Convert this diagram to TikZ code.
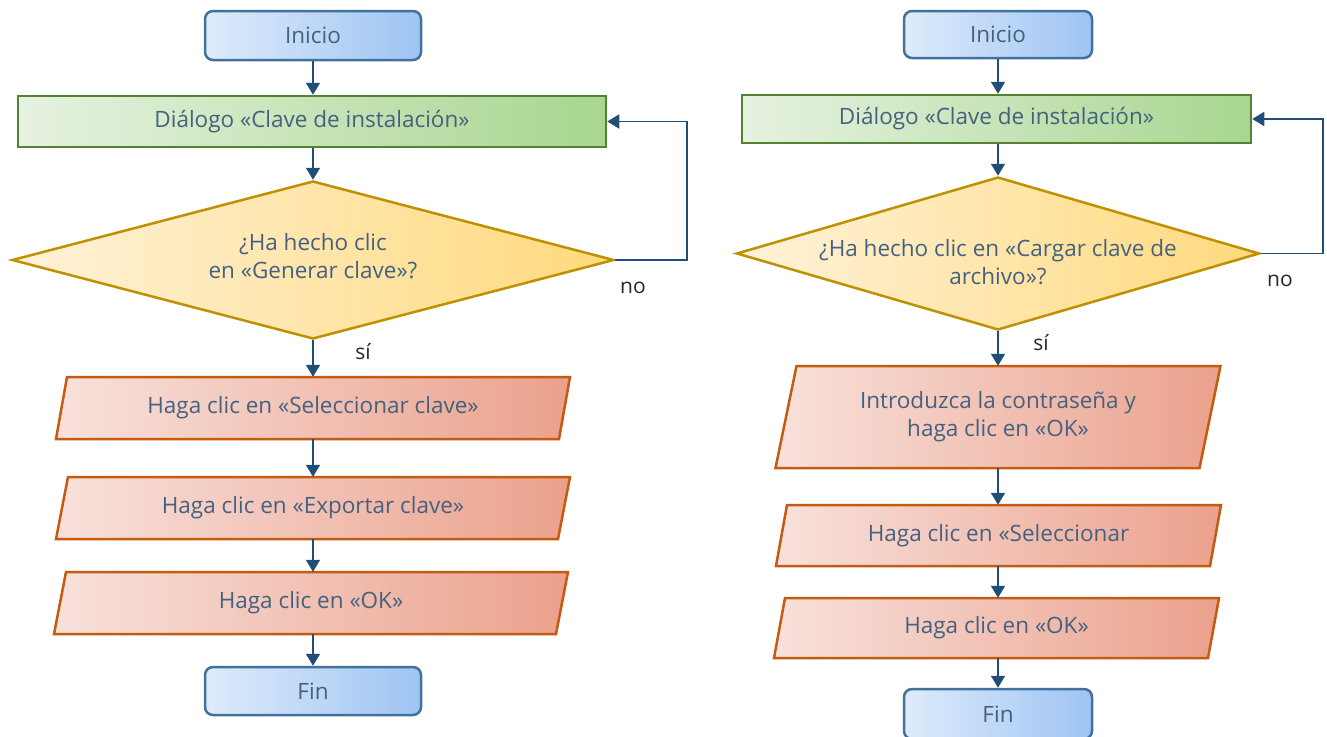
\documentclass[tikz,border=0pt]{standalone}
\usepackage{fontspec}
\setmainfont{Open Sans}
\usetikzlibrary{shapes.geometric,arrows.meta}
\definecolor{txt}{HTML}{44617F}
\definecolor{arrc}{HTML}{1F4E79}
\definecolor{blueL}{HTML}{DEEBFB}
\definecolor{blueR}{HTML}{9EC4F3}
\definecolor{blueB}{HTML}{41719C}
\definecolor{greenL}{HTML}{E6F2E0}
\definecolor{greenR}{HTML}{A8D690}
\definecolor{greenB}{HTML}{548235}
\definecolor{yelL}{HTML}{FFF2D9}
\definecolor{yelR}{HTML}{FFD97C}
\definecolor{yelB}{HTML}{BF9000}
\definecolor{redL}{HTML}{F8E1DB}
\definecolor{redR}{HTML}{EBA18C}
\definecolor{redB}{HTML}{C55A11}
\tikzset{
  x=1pt,y=-1pt,
  every node/.style={font=\fontsize{22.5}{28}\selectfont, text=txt, align=center},
  termbox/.style={rectangle, rounded corners=8pt, draw=blueB, line width=2.5pt, left color=blueL, right color=blueR, inner sep=0pt},
  dlgbox/.style={rectangle, draw=greenB, line width=2.5pt, left color=greenL, right color=greenR, inner sep=0pt},
  decbox/.style={diamond, draw=yelB, line width=2.5pt, left color=yelL, right color=yelR, inner sep=0pt},
  dectext/.style={inner sep=0pt},
  parashape/.style={draw=redB, line width=2.5pt, left color=redL, right color=redR},
  paratext/.style={rectangle, inner sep=0pt},
  arr/.style={draw=arrc, line width=1.8pt, -{Triangle[length=12pt,width=14pt]}},
  lbl/.style={font=\fontsize{21}{24}\selectfont, text=black!85}
}
% \mypara{name}{cx}{cy}{w}{h}{slant}{text}
\newcommand{\mypara}[7]{%
  \path[parashape] ({#2-#4/2+#6/2},{#3-#5/2}) -- ({#2+#4/2+#6/2},{#3-#5/2}) -- ({#2+#4/2-#6/2},{#3+#5/2}) -- ({#2-#4/2-#6/2},{#3+#5/2}) -- cycle;
  \node[paratext, minimum width=#4, minimum height=#5] (#1) at (#2,#3) {#7};%
}
\begin{document}
\begin{tikzpicture}
\useasboundingbox (0,0) rectangle (1327,736);
% ---------- left ----------
\node[termbox, minimum width=216, minimum height=49] (i1) at (313,35.5) {Inicio};
\node[dlgbox, minimum width=588, minimum height=51] (g1) at (312,121.5) {Diálogo «Clave de instalación»};
\node[decbox, minimum width=602, minimum height=158] (d1) at (313,260) {};
\node[dectext] (d1t) at (313,256) {¿Ha hecho clic\\en «Generar clave»?};
\mypara{a1}{313}{408}{503}{62}{11}{Haga clic en «Seleccionar clave»}
\mypara{a2}{313}{508}{502}{62}{12}{Haga clic en «Exportar clave»}
\mypara{a3}{311}{603}{502}{62}{12}{Haga clic en «OK»}
\node[termbox, minimum width=216, minimum height=48] (f1) at (313,691) {Fin};
\draw[arr] (i1.south) -- (i1.south |- g1.north);
\draw[arr] (d1.north |- g1.south) -- (d1.north);
\draw[arr] (d1.south) -- (a1.north);
\draw[arr] (a1.south) -- (a2.north);
\draw[arr] (a2.south -| f1.north) -- (f1.north |- a3.north);
\draw[arr] (a3.south -| f1.north) -- (f1.north);
\draw[arr] (d1.east) -- ++(72,0) |- (g1.east);
\node[lbl] (no1) at (633,288) {no};
\node[lbl] (si1) at (363,352) {sí};
% ---------- right ----------
\node[termbox, minimum width=188, minimum height=47] (i2) at (998,34.5) {Inicio};
\node[dlgbox, minimum width=509, minimum height=48] (g2) at (996.5,119) {Diálogo «Clave de instalación»};
\node[decbox, minimum width=523, minimum height=153] (d2) at (998,253.5) {};
\node[dectext] (d2t) at (998,262) {¿Ha hecho clic en «Cargar clave de\\archivo»?};
\mypara{b1}{998}{417}{424}{102}{21}{Introduzca la contraseña y\\haga clic en «OK»}
\mypara{b2}{998.5}{535.5}{434}{61}{11}{Haga clic en «Seleccionar}
\mypara{b3}{996.5}{628}{434}{60}{11}{Haga clic en «OK»}
\node[termbox, minimum width=188, minimum height=50] (f2) at (998,714) {Fin};
\draw[arr] (i2.south) -- (i2.south |- g2.north);
\draw[arr] (d2.north |- g2.south) -- (d2.north);
\draw[arr] (d2.south) -- (b1.north);
\draw[arr] (b1.south) -- (b1.south |- b2.north);
\draw[arr] (b2.south -| f2.north) -- (f2.north |- b3.north);
\draw[arr] (b3.south -| f2.north) -- (f2.north);
\draw[arr] (d2.east) -- ++(62,0) |- (g2.east);
\node[lbl] (no2) at (1280,281) {no};
\node[lbl] (si2) at (1041,343) {sí};
\end{tikzpicture}
\end{document}
